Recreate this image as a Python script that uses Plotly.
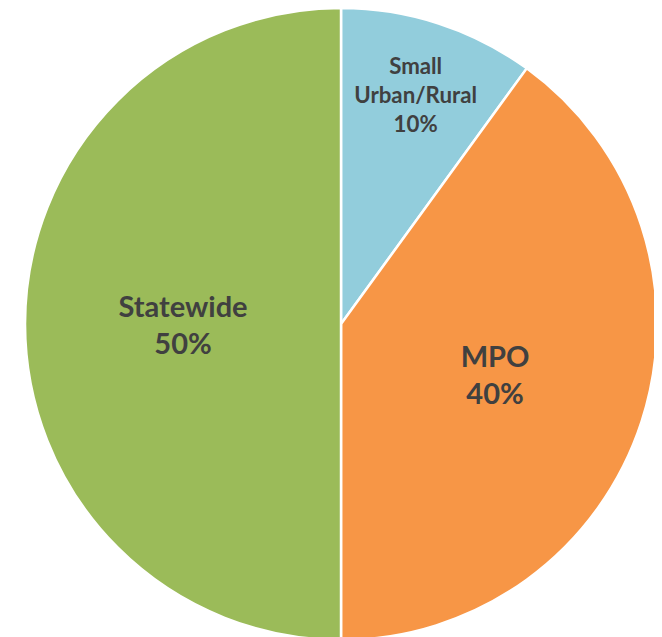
import plotly.graph_objects as go

labels = ["Small<br>Urban/Rural", "MPO", "Statewide"]
values = [10, 40, 50]
colors = ["#92CDDC", "#F79646", "#9BBB59"]
font_sizes = [24, 29, 29]

fig = go.Figure(go.Pie(
    labels=labels,
    values=values,
    sort=False,
    direction="clockwise",
    rotation=0,
    marker=dict(colors=colors, line=dict(color="white", width=2.5)),
    textinfo="label+percent",
    texttemplate="<b>%{label}<br>%{percent:.0%}</b>",
    textposition="inside",
    insidetextorientation="horizontal",
    textfont=dict(family="Lato", size=font_sizes, color="#404040"),
    hoverinfo="skip",
    showlegend=False,
    domain=dict(x=[0.0257, 0.9804], y=[0.0078, 1.0]),
))
fig.update_layout(
    width=662, height=637,
    margin=dict(l=0, r=0, t=0, b=0),
    paper_bgcolor="white",
)
fig.write_html("out.html")
